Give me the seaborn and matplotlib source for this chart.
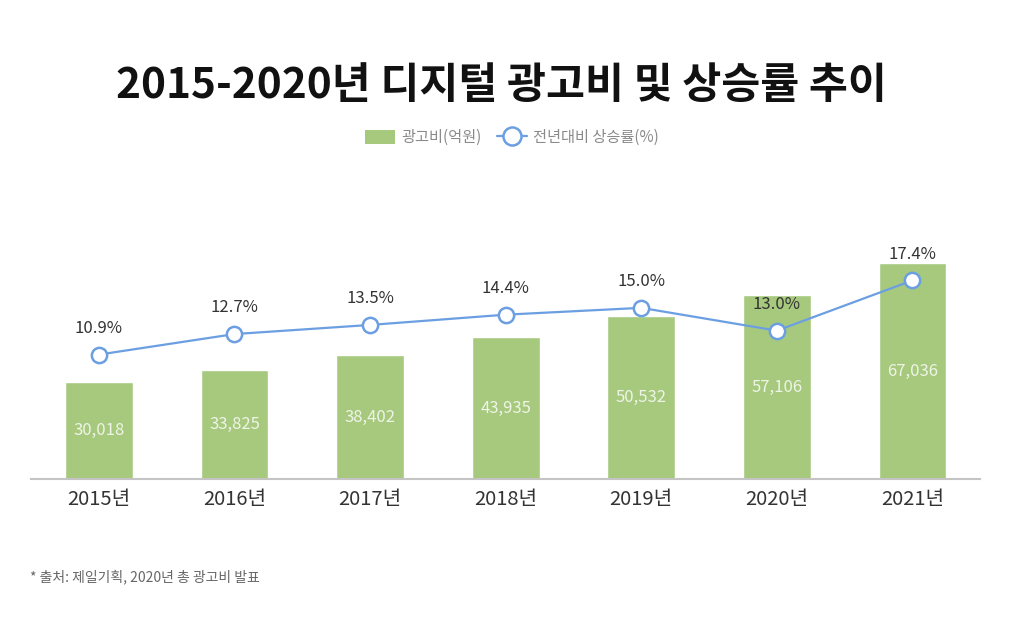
import numpy as np
import pandas as pd
import matplotlib
matplotlib.use('Agg')
import matplotlib.pyplot as plt
import seaborn as sns
from matplotlib.lines import Line2D
from matplotlib.patches import Patch

sns.set_style('white')
plt.rcParams['font.family'] = ['Noto Sans CJK KR', 'DejaVu Sans']

# 데이터
years = ['2015년', '2016년', '2017년', '2018년', '2019년', '2020년', '2021년']
ad_spend = [30018, 33825, 38402, 43935, 50532, 57106, 67036]
growth = [10.9, 12.7, 13.5, 14.4, 15.0, 13.0, 17.4]

df = pd.DataFrame({'연도': years, '광고비': ad_spend, '상승률': growth})

bar_color = '#a7c97e'
line_color = '#6b9fe2'

fig = plt.figure(figsize=(10.34, 6.22), dpi=100)
ax = fig.add_axes([0.030, 0.230, 0.918, 0.497])

sns.barplot(data=df, x='연도', y='광고비', color=bar_color, width=0.5,
            saturation=1, ax=ax)
ax.set_xlim(-0.5, 6.5)
ax.set_ylim(0, 96000)

for i, v in enumerate(ad_spend):
    ax.text(i, v / 2, f'{v:,}', ha='center', va='center', fontsize=12,
            color='#eef4e6', fontweight='light')

ax2 = ax.twinx()
sns.lineplot(x=np.arange(len(years)), y=growth, ax=ax2, color=line_color,
             linewidth=1.6, marker='o', markersize=11, markerfacecolor='white',
             markeredgecolor=line_color, markeredgewidth=1.8)
ax2.set_ylim(0, 27.1)
ax2.set_xlim(-0.5, 6.5)

for i, g in enumerate(growth):
    ax2.text(i, g + 2.3, f'{g:.1f}%', ha='center', va='center', fontsize=12,
             color='#333333')

for a in (ax, ax2):
    a.set_ylabel('')
    a.set_yticks([])
    for s in ['top', 'right', 'left']:
        a.spines[s].set_visible(False)
ax2.spines['bottom'].set_visible(False)
ax.spines['bottom'].set_color('#c4c4c4')
ax.spines['bottom'].set_linewidth(1.5)
ax.set_xlabel('')
ax.tick_params(axis='x', length=0, pad=7, labelsize=14.5, labelcolor='#333333')

fig.text(0.485, 0.862, '2015-2020년 디지털 광고비 및 상승률 추이', ha='center',
         va='center', fontsize=30.5, fontweight='heavy', color='#111111')

handles = [Patch(facecolor=bar_color, edgecolor='none'),
           Line2D([0], [0], color=line_color, marker='o', markersize=13,
                  markerfacecolor='white', markeredgecolor=line_color,
                  markeredgewidth=1.8, linewidth=1.6)]
fig.legend(handles, ['광고비(억원)', '전년대비 상승률(%)'], loc='center',
           bbox_to_anchor=(0.495, 0.779), ncol=2, frameon=False, fontsize=11,
           labelcolor='#8a8a8a', handlelength=2.0, handleheight=1.0,
           columnspacing=1.0, handletextpad=0.4)

fig.text(0.029, 0.072, '* 출처: 제일기획, 2020년 총 광고비 발표', fontsize=10,
         color='#666666', va='center')

fig.savefig('out.png', dpi=100)
